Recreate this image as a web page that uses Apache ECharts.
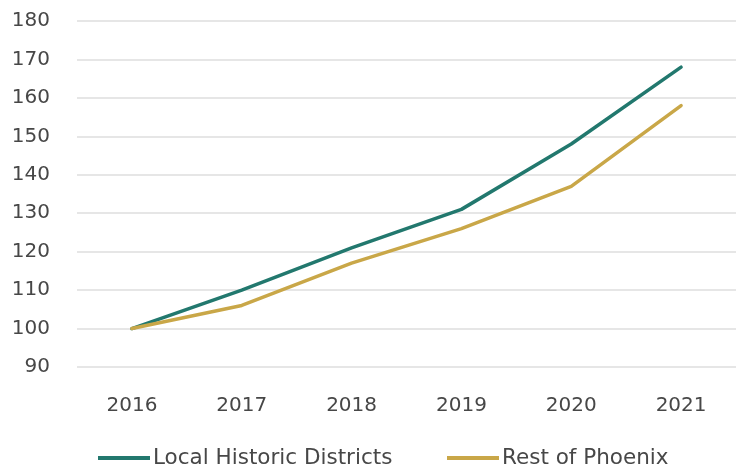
<!DOCTYPE html>
<html>
<head>
<meta charset="utf-8">
<script src="https://cdn.jsdelivr.net/npm/echarts@6/dist/echarts.min.js"></script>
<style>
  html, body { margin: 0; padding: 0; background: #fff; }
  #chart { width: 736px; height: 470px; }
</style>
</head>
<body>
<div id="chart"></div>
<script>
// Price index, 2016 = 100
const years = ['2016', '2017', '2018', '2019', '2020', '2021'];
const localHistoric = [100, 110, 121, 131, 148, 168];
const restOfPhoenix = [100, 106, 117, 126, 137, 158];
const seriesNames = ['Local Historic Districts', 'Rest of Phoenix'];

const TEAL = '#22786e';
const GOLD = '#c9a748';
const TEXT = '#474747';
const FONT = '"DejaVu Sans", "Open Sans", sans-serif';

const legendBase = {
  top: 442,
  padding: 5,
  icon: 'rect',
  itemWidth: 52,
  itemHeight: 4,
  textStyle: { color: TEXT, fontSize: 21.5, fontFamily: FONT, padding: [0, 0, 0, -2] }
};

const chart = echarts.init(document.getElementById('chart'), null, { renderer: 'canvas' });

chart.setOption({
  animation: false,
  backgroundColor: '#ffffff',
  grid: { left: 77, right: -12, top: 21, bottom: 103, containLabel: false },
  legend: [
    Object.assign({}, legendBase, { left: 93, data: [seriesNames[0]] }),
    Object.assign({}, legendBase, { left: 442, data: [seriesNames[1]] })
  ],
  xAxis: {
    type: 'category',
    data: years,
    boundaryGap: true,
    axisLine: { show: false },
    axisTick: { show: false },
    axisLabel: { color: TEXT, fontSize: 20, fontFamily: FONT, margin: 29 }
  },
  yAxis: {
    type: 'value',
    min: 90,
    max: 180,
    interval: 10,
    axisLine: { show: false },
    axisTick: { show: false },
    axisLabel: { color: TEXT, fontSize: 20, fontFamily: FONT, margin: 27 },
    splitLine: { lineStyle: { color: '#e6e6e6', width: 2 } }
  },
  series: [
    {
      name: seriesNames[0],
      type: 'line',
      data: localHistoric,
      symbol: 'none',
      lineStyle: { color: TEAL, width: 3.5, join: 'round', cap: 'round' },
      itemStyle: { color: TEAL }
    },
    {
      name: seriesNames[1],
      type: 'line',
      data: restOfPhoenix,
      symbol: 'none',
      lineStyle: { color: GOLD, width: 3.5, join: 'round', cap: 'round' },
      itemStyle: { color: GOLD }
    }
  ]
});
</script>
</body>
</html>
